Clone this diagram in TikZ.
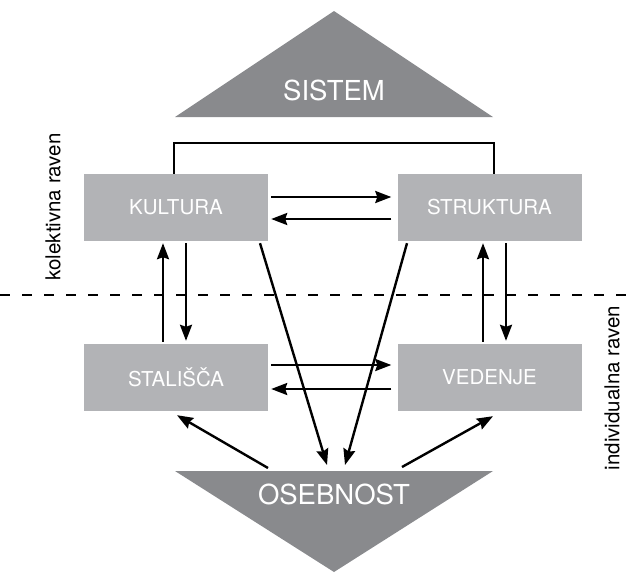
\documentclass[tikz,border=0pt]{standalone}
\usepackage{fontspec}
\setmainfont{TeX Gyre Heros}
\usetikzlibrary{arrows.meta, positioning, calc}
\usepackage{xcolor}
\definecolor{pyramidgray}{HTML}{898A8D}
\definecolor{boxgray}{HTML}{B2B3B6}

\begin{document}
\begin{tikzpicture}[
    x=1pt, y=-1pt,
    box/.style={
        rectangle,
        minimum width=184pt,
        minimum height=67pt,
        fill=boxgray,
        text=white,
        font=\fontsize{20.5}{24}\selectfont
    },
    pyramid/.style={
        fill=pyramidgray
    },
    label/.style={
        text=white,
        font=\fontsize{27.5}{32}\selectfont
    },
    level/.style={
        rotate=90,
        font=\fontsize{20.5}{24}\selectfont
    },
    arrow/.style={
        -{Stealth[length=16pt, width=12pt, inset=2pt]},
        line width=2.4pt
    },
    link/.style={
        line width=2.4pt
    }
]

\useasboundingbox (0,0) rectangle (626,574);

% Triangles
\fill[pyramid] (175,117) -- (334,11) -- (493,117) -- cycle;
\fill[pyramid] (175,471) -- (493,471) -- (334,572) -- cycle;
\node[label] (sistem) at (334,90) {SISTEM};
\node[label] (osebnost) at (334,494) {OSEBNOST};
\coordinate (osebtop) at (334,471);

% Boxes
\node[box] (kultura) at (176,207.5) {KULTURA};
\node[box] (struktura) at (489.5,207.5) {STRUKTURA};
\node[box] (stalisca) at (176,377.5) {STALIŠČA};
\node[box] (vedenje) at (489.5,377.5) {VEDENJE};

% Levels
\draw[line width=2.4pt, dash pattern=on 10pt off 12pt] (0,295) -- (626,295);
\node[level] (kolektivna) at (53,207) {kolektivna raven};
\node[level] (individualna) at (612,388) {individualna raven};

% Top link
\draw[link] ([xshift=-2pt]kultura.north) -- ++(0,-31) -| ([xshift=4.5pt]struktura.north);

% Horizontal arrows
\draw[arrow, shorten <=3pt, shorten >=6pt] ([yshift=10.5pt]kultura.east) -- ([yshift=10.5pt]struktura.west);
\draw[arrow, shorten <=6pt, shorten >=3pt] ([yshift=-11.5pt]struktura.west) -- ([yshift=-11.5pt]kultura.east);
\draw[arrow, shorten <=3pt, shorten >=6pt] ([yshift=12.5pt]stalisca.east) -- ([yshift=12.5pt]vedenje.west);
\draw[arrow, shorten <=6pt, shorten >=3pt] ([yshift=-11.5pt]vedenje.west) -- ([yshift=-11.5pt]stalisca.east);

% Vertical arrows
\draw[arrow, shorten <=2pt, shorten >=2pt] ([xshift=-13pt]stalisca.north) -- ([xshift=-13pt]kultura.south);
\draw[arrow, shorten <=2pt, shorten >=3pt] ([xshift=10pt]kultura.south) -- ([xshift=10pt]stalisca.north);
\draw[arrow, shorten <=2pt, shorten >=2pt] ([xshift=-6.5pt]vedenje.north) -- ([xshift=-6.5pt]struktura.south);
\draw[arrow, shorten <=2pt, shorten >=3pt] ([xshift=16.5pt]struktura.south) -- ([xshift=16.5pt]vedenje.north);

% Diagonal arrows
\draw[arrow] ([xshift=84pt, yshift=-2pt]kultura.south) -- ([xshift=-7pt, yshift=6pt]osebtop);
\draw[arrow] ([xshift=-82.5pt, yshift=-2pt]struktura.south) -- ([xshift=11pt, yshift=6pt]osebtop);
\draw[arrow] ([xshift=-66pt, yshift=3pt]osebtop) -- ([xshift=1pt, yshift=-4pt]stalisca.south);
\draw[arrow] ([xshift=68pt, yshift=4pt]osebtop) -- ([xshift=3.5pt, yshift=-5pt]vedenje.south);

\end{tikzpicture}
\end{document}
